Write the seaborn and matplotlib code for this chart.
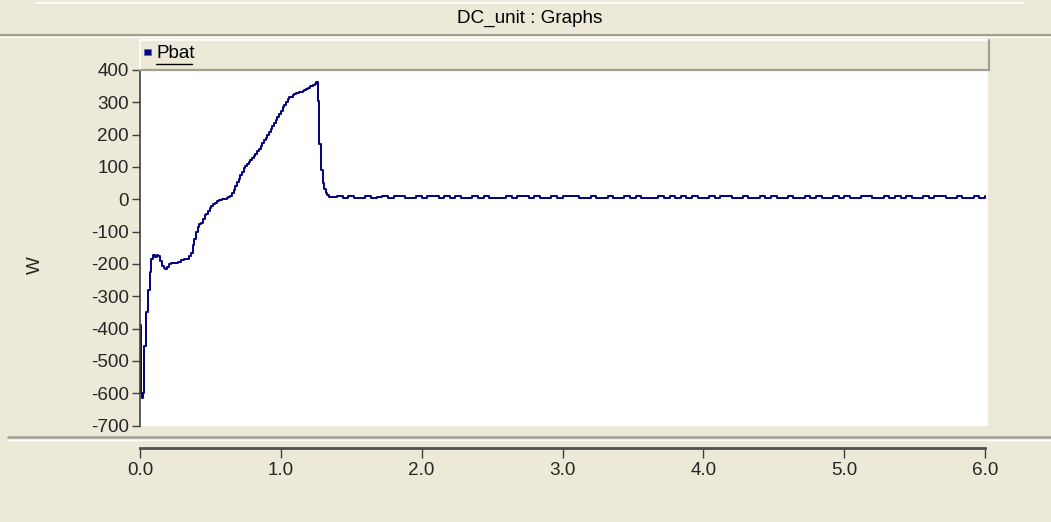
import numpy as np
import pandas as pd
import matplotlib
matplotlib.use("Agg")
import matplotlib.pyplot as plt
from matplotlib.lines import Line2D
from matplotlib.patches import Rectangle
import seaborn as sns

# ---------------- data ----------------
title = "DC_unit : Graphs"
series_name = "Pbat"
y_label = "W"
y_ticks = [400, 300, 200, 100, 0, -100, -200, -300, -400, -500, -600, -700]
x_ticks = [0.0, 1.0, 2.0, 3.0, 4.0, 5.0, 6.0]

t_transient = [0.000, 0.004, 0.012, 0.020, 0.030, 0.042, 0.055, 0.068, 0.080, 0.092,
               0.105, 0.118, 0.130, 0.142, 0.155, 0.167, 0.180, 0.192, 0.205, 0.217,
               0.230, 0.250, 0.270, 0.290, 0.310, 0.330, 0.350, 0.362, 0.374, 0.386,
               0.398, 0.410, 0.422, 0.434, 0.446, 0.458, 0.470, 0.482, 0.494, 0.506,
               0.518, 0.530, 0.545, 0.560, 0.580, 0.600, 0.615, 0.628, 0.640, 0.652,
               0.664, 0.676, 0.688, 0.700, 0.712, 0.724, 0.736, 0.748, 0.760, 0.772,
               0.784, 0.796, 0.808, 0.820, 0.832, 0.844, 0.856, 0.868, 0.880, 0.892,
               0.904, 0.916, 0.928, 0.940, 0.952, 0.964, 0.976, 0.988, 1.000, 1.012,
               1.024, 1.036, 1.048, 1.060, 1.072, 1.084, 1.096, 1.108, 1.120, 1.132,
               1.144, 1.156, 1.168, 1.180, 1.192, 1.204, 1.216, 1.228, 1.240, 1.252,
               1.262, 1.272, 1.284, 1.296, 1.306, 1.318, 1.330, 1.345, 1.360]
p_transient = [-390, -600, -615, -600, -455, -350, -280, -225, -185, -172,
               -178, -172, -175, -190, -205, -212, -215, -210, -200, -198,
               -197, -198, -195, -188, -185, -186, -176, -165, -140, -122,
               -100, -85, -78, -72, -62, -50, -45, -35, -28, -22,
               -16, -10, -5, -2, 0, 0, 3, 6, 10, 20,
               30, 40, 52, 64, 74, 85, 96, 102, 109, 115,
               121, 128, 135, 141, 148, 157, 166, 174, 183, 191,
               200, 208, 217, 226, 235, 244, 254, 264, 274, 285,
               293, 301, 310, 315, 318, 322, 326, 329, 330, 332,
               333, 335, 338, 341, 345, 349, 352, 355, 358, 362,
               305, 170, 92, 50, 32, 20, 12, 8, 7]

t_steady_start, t_steady_step = 1.40, 0.04
p_steady = [9, 3, 9, 3, 3, 9, 3, 7, 9, 3, 9, 9, 3, 3, 9, 3, 9, 9, 3, 9,
            3, 9, 3, 3, 9, 3, 9, 3, 3, 3, 9, 3, 9, 9, 3, 9, 3, 3, 9, 3,
            9, 9, 9, 3, 3, 9, 3, 3, 9, 3, 3, 9, 3, 9, 3, 3, 3, 9, 3, 9,
            3, 9, 3, 9, 3, 3, 9, 3, 9, 9, 3, 3, 9, 3, 3, 9, 3, 9, 3, 3,
            9, 3, 3, 9, 3, 9, 3, 3, 9, 3, 9, 3, 3, 9, 9, 3, 3, 9, 3, 9,
            3, 9, 3, 3, 9, 3, 9, 9, 3, 3, 9, 3, 3, 9, 3, 9]
t_steady = [round(t_steady_start + i * t_steady_step, 3) for i in range(len(p_steady))]

df = pd.DataFrame({"t": t_transient + t_steady, "P": p_transient + p_steady})

# ---------------- style ----------------
sns.set_theme(style="white")
plt.rcParams["font.family"] = ["Liberation Sans", "DejaVu Sans"]

W, H = 1051, 522
BG = "#ECE9D8"
FS = 13.6
fx = lambda x: x / W
fy = lambda y: 1 - y / H

fig = plt.figure(figsize=(W / 100, H / 100), dpi=100, facecolor=BG)

# title bar
fig.add_artist(Line2D([fx(36), fx(1024)], [fy(3), fy(3)], color="white", lw=1.2))
fig.text(fx(530), fy(18), title, ha="center", va="center", fontsize=FS, color="black")
fig.add_artist(Line2D([0, 1], [fy(35), fy(35)], color="#A3A090", lw=1.5))
fig.add_artist(Line2D([0, 1], [fy(37), fy(37)], color="white", lw=1.0))

# legend bar
fig.add_artist(Rectangle((fx(140), fy(70)), fx(988) - fx(140), fy(40) - fy(70),
                         facecolor=BG, edgecolor="none"))
fig.add_artist(Line2D([fx(140), fx(988)], [fy(40), fy(40)], color="white", lw=1.2))
fig.add_artist(Line2D([fx(140), fx(140)], [fy(40), fy(70)], color="white", lw=1.2))
fig.add_artist(Line2D([fx(140), fx(989)], [fy(70), fy(70)], color="#A3A090", lw=1.6))
fig.add_artist(Line2D([fx(989), fx(989)], [fy(40), fy(70)], color="#A3A090", lw=1.6))
fig.add_artist(Rectangle((fx(144), fy(55)), 7 / W, 6 / H, facecolor="#000080", edgecolor="#6060c0", lw=0.5))
fig.text(fx(156), fy(53), series_name, ha="left", va="center", fontsize=FS, color="black")
fig.add_artist(Line2D([fx(156), fx(192)], [fy(64), fy(64)], color="black", lw=1.0))

# main plot
ax = fig.add_axes([fx(140), fy(425.5), (988 - 140) / W, (425.5 - 70) / H])
ax.set_facecolor("white")
sns.lineplot(data=df, x="t", y="P", ax=ax, color="#000080", lw=1.4,
             drawstyle="steps-post", estimator=None, legend=False)
ax.set_xlim(0, 6.0 * 848 / 845)
ax.set_ylim(-700, 400)
ax.set_yticks(y_ticks)
ax.set_yticklabels([str(v) for v in y_ticks])
ax.set_xticks([])
ax.set_xlabel("")
ax.set_ylabel("")
for s in ["top", "right", "bottom"]:
    ax.spines[s].set_visible(False)
ax.spines["left"].set_color("#404040")
ax.spines["left"].set_linewidth(1.2)
ax.tick_params(axis="y", direction="out", length=6, width=1, color="#404040",
               labelsize=FS, pad=2, left=True)

fig.text(fx(35), fy(265), y_label, rotation=90, ha="center", va="center", fontsize=FS)

# separator above x axis
fig.add_artist(Line2D([fx(8), 1], [fy(437), fy(437)], color="#A3A090", lw=1.8))
fig.add_artist(Line2D([fx(8), 1], [fy(439.5), fy(439.5)], color="white", lw=1.0))

# x axis
axx = fig.add_axes([fx(140), fy(448), (985 - 140) / W, 0.0001])
axx.set_facecolor("none")
axx.set_xlim(0, 6)
axx.set_xticks(x_ticks)
axx.set_xticklabels([f"{v:.1f}" for v in x_ticks])
axx.set_yticks([])
for s in ["top", "right", "left"]:
    axx.spines[s].set_visible(False)
axx.spines["bottom"].set_color("#505050")
axx.spines["bottom"].set_linewidth(2.0)
axx.tick_params(axis="x", direction="out", length=7, width=1, color="#404040",
                labelsize=FS, pad=3, bottom=True)

fig.savefig("out.png", dpi=100, facecolor=BG)
